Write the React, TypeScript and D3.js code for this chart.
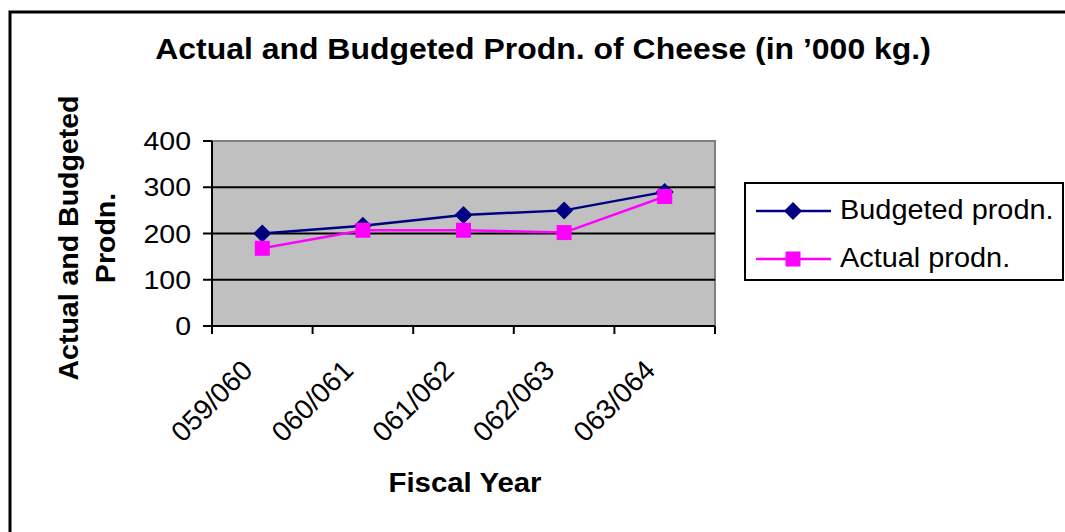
import React from "react";
import * as d3 from "d3";

const years = ["059/060", "060/061", "061/062", "062/063", "063/064"];
const budgeted = [200, 217, 240, 250, 290];
const actual = [168, 207, 207, 202, 280];
const yTicks = [0, 100, 200, 300, 400];

const series = [
  { name: "Budgeted prodn.", values: budgeted, color: "#000080", marker: "diamond" },
  { name: "Actual prodn.", values: actual, color: "#FF00FF", marker: "square" },
];

const W = 1065;
const H = 532;
const FONT = "'Liberation Sans', Arial, sans-serif";

const plot = { left: 212, right: 715, top: 141, bottom: 326 };

function Marker({ kind, x, y, color }: { kind: string; x: number; y: number; color: string }) {
  if (kind === "diamond") {
    const r = 9;
    return (
      <path
        d={`M${x},${y - r}L${x + r},${y}L${x},${y + r}L${x - r},${y}Z`}
        fill={color}
      />
    );
  }
  const s = 15;
  return <rect x={x - s / 2} y={y - s / 2} width={s} height={s} fill={color} />;
}

// Horizontally widened text, as the chart's lettering is slightly broad.
function WideText({
  x,
  y,
  sx,
  children,
  ...rest
}: {
  x: number;
  y: number;
  sx: number;
  children: React.ReactNode;
  [k: string]: any;
}) {
  return (
    <g transform={`translate(${x},${y}) scale(${sx},1)`}>
      <text x={0} y={0} fill="#000" {...rest}>
        {children}
      </text>
    </g>
  );
}

export default function App() {
  const x = d3.scaleBand<string>().domain(years).range([plot.left, plot.right]).padding(0);
  const y = d3.scaleLinear().domain([0, 400]).range([plot.bottom, plot.top]);
  const cx = (c: string) => (x(c) as number) + x.bandwidth() / 2;

  const line = d3
    .line<number>()
    .x((_, i) => cx(years[i]))
    .y((v) => y(v));

  const tickEdges = years.map((c) => x(c) as number).concat([plot.right]);

  return (
    <svg
      width={W}
      height={H}
      style={{ position: "absolute", left: 0, top: 0, background: "#fff" }}
      fontFamily={FONT}
    >
      {/* chart frame */}
      <rect x={10} y={12} width={W + 20} height={H + 20} fill="#fff" stroke="#000" strokeWidth={3} />

      {/* title */}
      <WideText x={543} y={59} sx={1.065} textAnchor="middle" fontSize={30} fontWeight="bold">
        Actual and Budgeted Prodn. of Cheese (in ’000 kg.)
      </WideText>

      {/* plot area */}
      <rect
        x={plot.left}
        y={plot.top}
        width={plot.right - plot.left}
        height={plot.bottom - plot.top}
        fill="#C0C0C0"
        stroke="#808080"
        strokeWidth={2}
      />

      {/* gridlines */}
      {yTicks
        .filter((t) => t > 0 && t < 400)
        .map((t) => (
          <line key={t} x1={plot.left} x2={plot.right} y1={y(t)} y2={y(t)} stroke="#000" strokeWidth={2} />
        ))}

      {/* y axis */}
      <line x1={plot.left} x2={plot.left} y1={plot.top} y2={plot.bottom} stroke="#000" strokeWidth={2} />
      {yTicks.map((t) => (
        <g key={t}>
          <line x1={plot.left - 9} x2={plot.left} y1={y(t)} y2={y(t)} stroke="#000" strokeWidth={2} />
          <WideText x={plot.left - 21} y={y(t) + 9} sx={1.14} textAnchor="end" fontSize={25}>
            {t}
          </WideText>
        </g>
      ))}

      {/* x axis */}
      <line x1={plot.left} x2={plot.right} y1={plot.bottom} y2={plot.bottom} stroke="#000" strokeWidth={2} />
      {tickEdges.map((e, i) => (
        <line key={i} x1={e} x2={e} y1={plot.bottom} y2={plot.bottom + 8} stroke="#000" strokeWidth={2} />
      ))}
      {years.map((c) => {
        const px = cx(c) - 8;
        const py = plot.bottom + 46;
        return (
          <text
            key={c}
            x={px}
            y={py}
            textAnchor="end"
            fontSize={28}
            fill="#000"
            transform={`rotate(-45, ${px}, ${py})`}
          >
            {c}
          </text>
        );
      })}

      {/* series */}
      {series.map((s) => (
        <g key={s.name}>
          <path d={line(s.values) || ""} fill="none" stroke={s.color} strokeWidth={2.5} />
          {s.values.map((v, i) => (
            <Marker key={i} kind={s.marker} x={cx(years[i])} y={y(v)} color={s.color} />
          ))}
        </g>
      ))}

      {/* axis titles */}
      <WideText x={465} y={492} sx={1.05} textAnchor="middle" fontSize={28} fontWeight="bold">
        Fiscal Year
      </WideText>
      <g transform="translate(78, 238) rotate(-90)">
        <text x={0} y={0} textAnchor="middle" fontSize={28.5} fontWeight="bold" fill="#000">
          Actual and Budgeted
        </text>
        <text x={0} y={37} textAnchor="middle" fontSize={28.5} fontWeight="bold" fill="#000">
          Prodn.
        </text>
      </g>

      {/* legend */}
      <rect x={745} y={183} width={318} height={97} fill="#fff" stroke="#000" strokeWidth={2} />
      {series.map((s, i) => {
        const ly = 211 + i * 48;
        return (
          <g key={s.name}>
            <line x1={756} x2={831} y1={ly} y2={ly} stroke={s.color} strokeWidth={2.5} />
            <Marker kind={s.marker} x={793} y={ly} color={s.color} />
            <WideText x={840} y={ly + 8} sx={1.07} fontSize={27}>
              {s.name}
            </WideText>
          </g>
        );
      })}
    </svg>
  );
}
